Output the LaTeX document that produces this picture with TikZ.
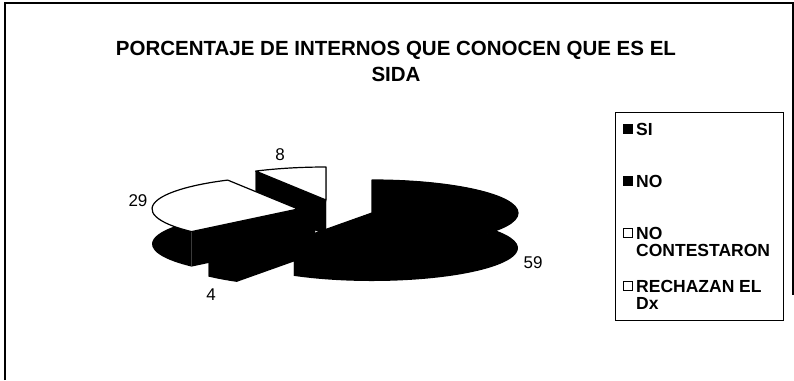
\documentclass[tikz,border=0pt]{standalone}
\usepackage{fontspec}
\setmainfont{Liberation Sans}
\usetikzlibrary{positioning}
\tikzstyle{title}=[font=\bfseries\fontsize{20.5}{22}\selectfont, inner sep=0pt]
\tikzstyle{pct label}=[font=\fontsize{17}{17}\selectfont, inner sep=0pt]
\tikzstyle{key text}=[font=\bfseries\fontsize{17.5}{18}\selectfont, anchor=west, inner sep=0pt]
\tikzstyle{key box}=[draw, line width=0.8pt, minimum size=9pt, inner sep=0pt]
% one exploded 3d slice: centre x, centre y, start angle, end angle, top colour
\newcommand{\pieslice}[5]{%
  \fill[black] (#1,#2) -- ++(#3:146 and 33) -- ++(0,35) -- (#1,#2+35) -- cycle;
  \fill[black] (#1,#2) -- ++(#4:146 and 33) -- ++(0,35) -- (#1,#2+35) -- cycle;
  \fill[black] (#1,#2) ++(#3:146 and 33)
    arc[start angle=#3, end angle=#4, x radius=146, y radius=33] -- ++(0,35)
    arc[start angle=#4, end angle=#3, x radius=146, y radius=33] -- cycle;
  \filldraw[fill=#5, draw=black, line width=1.2pt, line join=round] (#1,#2)
    -- ++(#3:146 and 33)
    arc[start angle=#3, end angle=#4, x radius=146, y radius=33] -- cycle;
}

\begin{document}
\begin{tikzpicture}[x=1pt, y=-1pt]
  \useasboundingbox (0,0) rectangle (794,380);

  % frame
  \draw[line width=1.2pt] (5,380) -- (5,3) -- (793,3) -- (793,295);

  \node[title] (title) at (396,50) {PORCENTAJE DE INTERNOS QUE CONOCEN QUE ES EL};
  \node[title] (title2) [below = 8pt of title] {SIDA};

  % slices, back to front
  \pieslice{326}{200}{241.2}{270}{white}
  \pieslice{298}{209}{136.8}{241.2}{white}
  \pieslice{315}{219}{122.4}{136.8}{black}
  \pieslice{372}{213}{-90}{122.4}{black}

  \node[pct label] (lsi) at (533,263) {59};
  \node[pct label] (lno) at (211,295) {4};
  \node[pct label] (lnc) at (138,201) {29};
  \node[pct label] (lrd) at (280,155) {8};

  % legend
  \node[draw, line width=1pt, minimum width=168pt, minimum height=208pt, inner sep=0pt] (legend) at (699,216) {};

  \node[key text] (ksi) at (636,129) {SI};
  \node[key box, fill=black] (bsi) [left = 3pt of ksi] {};

  \node[key text] (kno) at (636,181) {NO};
  \node[key box, fill=black] (bno) [left = 3pt of kno] {};

  \node[key text] (knc) at (636,233) {NO};
  \node[key text] (knc2) [below = 5pt of knc.south west, anchor=north west] {CONTESTARON};
  \node[key box, fill=white] (bnc) [left = 3pt of knc] {};

  \node[key text] (krd) at (636,286) {RECHAZAN EL};
  \node[key text] (krd2) [below = 5pt of krd.south west, anchor=north west] {Dx};
  \node[key box, fill=white] (brd) [left = 3pt of krd] {};

\end{tikzpicture}
\end{document}
